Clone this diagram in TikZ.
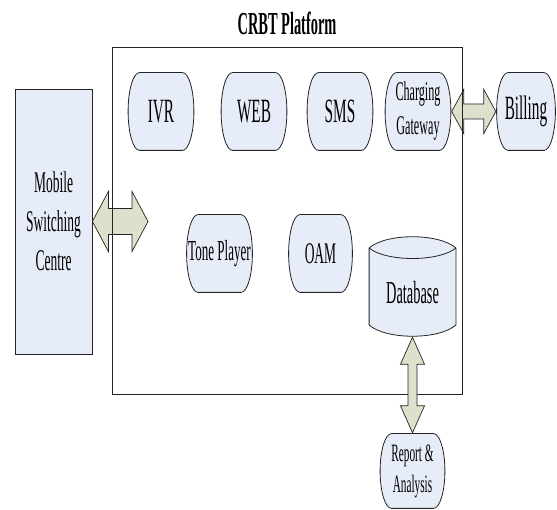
\documentclass[tikz,border=0pt]{standalone}
\usepackage{fontspec}
\setmainfont[FakeStretch=0.45]{Liberation Serif}
\usetikzlibrary{positioning, calc}
\definecolor{BoxFill}{RGB}{231,237,248}
\definecolor{ArrowFill}{RGB}{221,225,204}
\definecolor{EdgeDark}{RGB}{35,35,35}

\begin{document}
\begin{tikzpicture}[x=1pt, y=1pt,
    unit/.style={rectangle, inner sep=0pt, minimum width=67pt, minimum height=79pt,
        align=center, font=\fontsize{34}{40}\selectfont,
        path picture={
            \path[fill=BoxFill, draw=EdgeDark, line width=0.8pt]
                let \p1=(path picture bounding box.south west),
                    \p2=(path picture bounding box.north east),
                    \n1={(\y2-\y1)/2-0.6pt} in
                (\x1+12pt,\y1+0.6pt) -- (\x2-12pt,\y1+0.6pt)
                arc[start angle=-90, end angle=90, x radius=11.4pt, y radius=\n1]
                -- (\x1+12pt,\y2-0.6pt)
                arc[start angle=90, end angle=270, x radius=11.4pt, y radius=\n1]
                -- cycle;
        }},
    store/.style={rectangle, inner sep=0pt, minimum width=88pt, minimum height=101pt,
        font=\fontsize{32}{38}\selectfont, text height=35pt, text depth=0pt,
        path picture={
            \path[fill=BoxFill, draw=EdgeDark, line width=0.8pt]
                let \p1=(path picture bounding box.south west),
                    \p2=(path picture bounding box.north east),
                    \n1={\x2-\x1} in
                (\x1+0.6pt,\y2-12pt) .. controls (\x1+0.2*\n1,\y2+3pt) and (\x2-0.2*\n1,\y2+3pt) .. (\x2-0.6pt,\y2-12pt)
                -- (\x2-0.6pt,\y1+12pt) .. controls (\x2-0.2*\n1,\y1-3pt) and (\x1+0.2*\n1,\y1-3pt) .. (\x1+0.6pt,\y1+12pt)
                -- cycle;
            \draw[EdgeDark, line width=0.8pt]
                let \p1=(path picture bounding box.south west),
                    \p2=(path picture bounding box.north east),
                    \n1={\x2-\x1} in
                (\x1+0.6pt,\y2-12pt) .. controls (\x1+0.2*\n1,\y2-26pt) and (\x2-0.2*\n1,\y2-26pt) .. (\x2-0.6pt,\y2-12pt);
        }},
    fatarrow/.style={fill=ArrowFill, draw=EdgeDark, line width=0.7pt, line join=miter}]

    \useasboundingbox (0,0) rectangle (557,510);

    % Title
    \node[font=\bfseries\fontsize{32}{38}\selectfont, anchor=base] (crbttitle) at (287,475) {CRBT Platform};

    % Mobile Switching Centre
    \node[draw=EdgeDark, fill=BoxFill, line width=0.8pt, minimum width=77pt, minimum height=265pt,
        align=center, font=\fontsize{30}{39}\selectfont] (msc) at (53.5,288.5) {Mobile\\Switching\\Centre};
    \coordinate (mscin) at (148,288.5);

    % Top row
    \node[unit] (ivr) at (161,398.5) {IVR};
    \node[unit] (web) at (254,398.5) {WEB};
    \node[unit] (sms) at (340,398.5) {SMS};
    \node[unit, font=\fontsize{27}{34}\selectfont] (cg) at (418,398.5) {Charging\\Gateway};
    \node[unit, minimum width=60pt] (bill) at (526,398.5) {Billing};

    % Middle row
    \node[unit, font=\fontsize{29}{34}\selectfont] (tone) at (219.5,256.5) {Tone Player};
    \node[unit, minimum width=65pt, font=\fontsize{30}{36}\selectfont] (oam) at (320.5,256.5) {OAM};
    \node[store] (db) at (412.5,223.5) {Database};

    % Report
    \node[unit, minimum width=66pt, minimum height=76pt, font=\fontsize{25}{31}\selectfont] (rep) at (412.5,39) {Report \&\\Analysis};

    % Arrows MSC and billing
    \draw[fatarrow] let \p1=(msc.east), \p2=(mscin) in
        (\p1) -- (\x1+16pt,\y1+30pt) -- (\x1+16pt,\y1+13pt) -- (\x2-16pt,\y1+13pt) -- (\x2-16pt,\y1+30pt)
        -- (\x2,\y1) -- (\x2-16pt,\y1-30pt) -- (\x2-16pt,\y1-13pt) -- (\x1+16pt,\y1-13pt) -- (\x1+16pt,\y1-30pt) -- cycle;
    \draw[fatarrow] let \p1=(cg.east), \p2=(bill.west) in
        (\p1) -- (\x1+12pt,\y1+22pt) -- (\x1+12pt,\y1+7.5pt) -- (\x2-12pt,\y1+7.5pt) -- (\x2-12pt,\y1+22pt)
        -- (\x2,\y1) -- (\x2-12pt,\y1-22pt) -- (\x2-12pt,\y1-7.5pt) -- (\x1+12pt,\y1-7.5pt) -- (\x1+12pt,\y1-22pt) -- cycle;

    % CRBT Platform box
    \node[draw=EdgeDark, line width=0.8pt, minimum width=350pt, minimum height=347pt, inner sep=0pt] (crbt) at (287,289.5) {};

    % Database to report
    \draw[fatarrow] let \p1=(db.south), \p2=(rep.north) in
        (\p1) -- (\x1+12pt,\y1-27pt) -- (\x1+4.5pt,\y1-27pt) -- (\x1+4.5pt,\y2+27pt) -- (\x1+12pt,\y2+27pt)
        -- (\x1,\y2) -- (\x1-12pt,\y2+27pt) -- (\x1-4.5pt,\y2+27pt) -- (\x1-4.5pt,\y1-27pt) -- (\x1-12pt,\y1-27pt) -- cycle;
\end{tikzpicture}
\end{document}
